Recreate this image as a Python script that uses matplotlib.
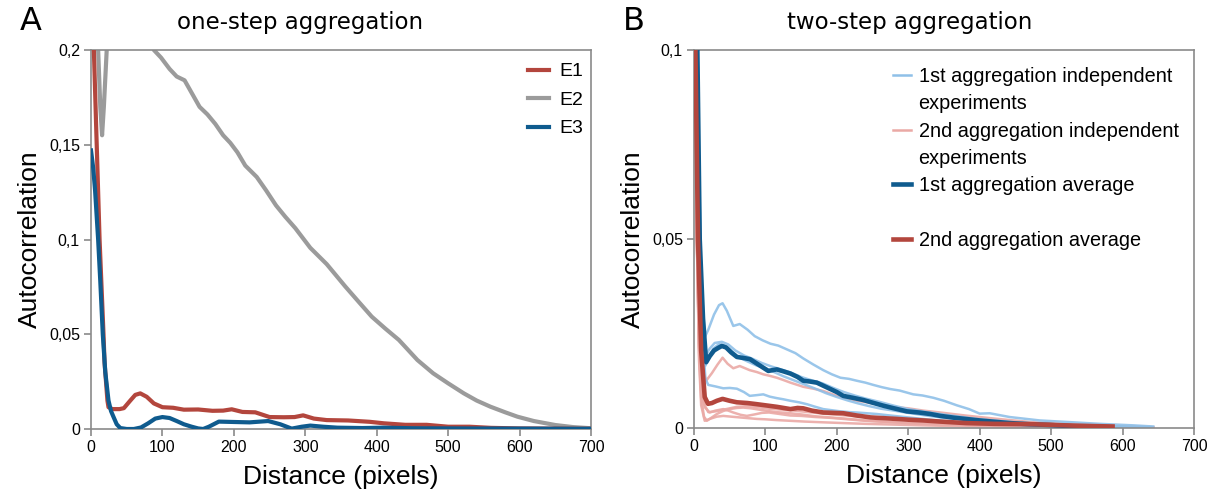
import matplotlib
matplotlib.use("Agg")
import matplotlib.pyplot as plt
from matplotlib.lines import Line2D
from matplotlib.ticker import FuncFormatter

# ---- panel A: one-step aggregation ----
e1_x = [0, 4, 8, 12, 17.5, 19, 21, 23, 24.5, 30, 40, 46, 55, 62, 69, 78, 88, 100, 115, 130,
        150, 170, 185, 197, 212, 230, 250, 270, 285, 297, 312, 330, 360, 390, 410, 440, 470,
        500, 530, 560, 600, 650, 700]
e1_y = [0.30, 0.20, 0.15, 0.10, 0.05, 0.035, 0.025, 0.015, 0.0115, 0.0105, 0.0105, 0.011,
        0.015, 0.018, 0.0188, 0.017, 0.0135, 0.0115, 0.0112, 0.0102, 0.0103, 0.0096, 0.0097,
        0.0104, 0.009, 0.0088, 0.0063, 0.0062, 0.0063, 0.0072, 0.0055, 0.0047, 0.0045, 0.0038,
        0.003, 0.0022, 0.0022, 0.0012, 0.0012, 0.0006, 0.0003, 0.0002, 0.0001]

e2_x = [0, 6, 10, 13, 15.5, 18, 22, 30, 45, 60, 75, 88, 98, 110, 120, 131, 140, 152, 163,
        174, 185, 195, 205, 216, 232, 245, 259, 272, 286, 307, 330, 356, 375, 393, 412, 431,
        457, 479, 500, 522, 540, 559, 580, 597, 620, 650, 675, 700]
e2_y = [0.45, 0.26, 0.2, 0.17, 0.155, 0.17, 0.2, 0.25, 0.26, 0.245, 0.225, 0.2, 0.196, 0.19,
        0.186, 0.184, 0.178, 0.170, 0.166, 0.161, 0.155, 0.151, 0.146, 0.139, 0.133, 0.126,
        0.118, 0.112, 0.106, 0.0956, 0.087, 0.0752, 0.067, 0.0593, 0.053, 0.047, 0.0364,
        0.0294, 0.0241, 0.0188, 0.015, 0.0118, 0.0088, 0.0065, 0.0042, 0.0021, 0.001, 0.0004]

e3_x = [0, 3, 5.7, 10, 13, 16.5, 20, 24.5, 28, 31.6, 36, 41, 50, 60, 70, 80, 90, 100, 110,
        120, 130, 141, 150, 157, 165, 179, 200, 222, 248, 265, 281, 295, 307, 325, 345, 380,
        409, 450, 500, 600, 700]
e3_y = [0.147, 0.138, 0.126, 0.1, 0.078, 0.05, 0.03, 0.015, 0.0095, 0.0063, 0.0025, 0.0005,
        0.0, 0.0, 0.0008, 0.003, 0.0055, 0.0063, 0.0058, 0.0042, 0.0025, 0.0012, 0.0003, 0.0,
        0.0012, 0.0039, 0.0037, 0.0035, 0.0042, 0.0025, 0.0002, 0.0012, 0.0018, 0.0012,
        0.0007, 0.0005, 0.0007, 0.0004, 0.0003, 0.0002, 0.0001]

# ---- panel B: two-step aggregation ----
# 1st aggregation, independent experiments
lb1_x = [0, 3, 6, 10, 15, 20, 28, 35, 40, 46, 55, 64, 75, 85, 96, 107, 118, 130, 142, 153,
         167, 181, 193, 205, 217, 228, 240, 251, 263, 275, 288, 307, 320, 335, 350, 368, 385,
         400, 414, 442, 484, 522, 568, 615, 643]
lb1_y = [0.4, 0.15, 0.08, 0.04, 0.024, 0.026, 0.030, 0.0325, 0.033, 0.031, 0.027, 0.0275,
         0.026, 0.0243, 0.0232, 0.0223, 0.0218, 0.0208, 0.0198, 0.0184, 0.0168, 0.0153,
         0.0142, 0.0133, 0.013, 0.0125, 0.012, 0.0114, 0.0108, 0.0103, 0.0099, 0.0089,
         0.0086, 0.008, 0.0072, 0.006, 0.005, 0.0038, 0.0039, 0.0029, 0.002, 0.0016, 0.0011,
         0.0007, 0.0004]
lb2_x = [0, 3, 5, 8, 12, 16, 22, 29, 39, 48, 58, 70, 82, 95, 108, 120, 135, 150, 165, 180,
         195, 210, 225, 240, 260, 280, 300, 330, 360, 400, 450, 500, 550, 600, 640]
lb2_y = [0.4, 0.15, 0.1, 0.05, 0.028, 0.019, 0.021, 0.0225, 0.0228, 0.0221, 0.0205, 0.0192,
         0.0183, 0.0172, 0.0163, 0.0156, 0.0147, 0.0135, 0.0126, 0.0118, 0.0106, 0.0095,
         0.0086, 0.0078, 0.0069, 0.0059, 0.005, 0.0041, 0.0033, 0.0023, 0.0015, 0.0009,
         0.0005, 0.0003, 0.0002]
lb3_x = [0, 3, 5, 8, 12, 16, 20, 27, 35, 43, 52, 62, 75, 88, 100, 112, 125, 140, 155, 170,
         185, 200, 215, 230, 245, 262, 280, 300, 325, 350, 380, 420, 470, 520, 580, 630]
lb3_y = [0.4, 0.15, 0.1, 0.05, 0.026, 0.0165, 0.0185, 0.021, 0.0222, 0.0218, 0.0205, 0.0188,
         0.0176, 0.0165, 0.0158, 0.0148, 0.0137, 0.0126, 0.0115, 0.0104, 0.0092, 0.0082,
         0.0073, 0.0065, 0.0058, 0.0051, 0.0046, 0.004, 0.0033, 0.0027, 0.0021, 0.0015,
         0.001, 0.0006, 0.0003, 0.0002]
lb4_x = [0, 3, 5, 8, 12, 16, 20, 30, 41, 50, 60, 70, 78, 88, 97, 106, 116, 125, 135, 147,
         158, 170, 181, 193, 205, 217, 228, 242, 256, 275, 300, 330, 360, 400, 450, 500, 550,
         600, 640]
lb4_y = [0.4, 0.15, 0.1, 0.05, 0.024, 0.013, 0.0114, 0.011, 0.0105, 0.0106, 0.0104, 0.0095,
         0.0085, 0.0087, 0.0089, 0.0083, 0.0079, 0.0076, 0.0072, 0.0068, 0.0063, 0.0056,
         0.005, 0.0047, 0.0044, 0.0042, 0.0041, 0.0039, 0.0037, 0.0033, 0.0028, 0.0022,
         0.0017, 0.0012, 0.0008, 0.0005, 0.0003, 0.0002, 0.0001]

# 2nd aggregation, independent experiments
lr1_x = [0, 2, 4, 7, 11, 17, 25, 33, 40, 47, 55, 64, 78, 88, 97, 106, 116, 125, 135, 153,
         167, 181, 200, 214, 228, 242, 256, 270, 284, 300, 321, 345, 380, 420, 470, 520, 570,
         620, 643]
lr1_y = [0.4, 0.1, 0.05, 0.025, 0.016, 0.0125, 0.0145, 0.0168, 0.0186, 0.017, 0.0158,
         0.0164, 0.0153, 0.0148, 0.0142, 0.0138, 0.0133, 0.0127, 0.012, 0.0109, 0.0104,
         0.0098, 0.0085, 0.0079, 0.0072, 0.0068, 0.0063, 0.0058, 0.0055, 0.0052, 0.0046,
         0.0041, 0.0033, 0.0025, 0.0016, 0.001, 0.0006, 0.0003, 0.0002]
lr2_x = [0, 2, 4, 7, 10, 14, 18, 25, 32, 41, 50, 60, 69, 80, 90, 100, 115, 130, 150, 170,
         190, 210, 240, 270, 300, 340, 380, 430, 480, 530, 580, 630]
lr2_y = [0.4, 0.1, 0.05, 0.02, 0.008, 0.003, 0.0019, 0.0028, 0.0037, 0.0045, 0.005, 0.0053,
         0.0054, 0.0052, 0.0049, 0.0046, 0.0042, 0.0040, 0.0036, 0.0031, 0.0028, 0.0025,
         0.002, 0.0016, 0.0013, 0.001, 0.0008, 0.0006, 0.0004, 0.0003, 0.0002, 0.0001]
lr3_x = [0, 2, 4, 7, 10, 15, 22, 30, 41, 48, 55, 65, 74, 85, 95, 105, 120, 135, 150, 170,
         190, 215, 240, 270, 300, 340, 390, 440, 500, 560, 620]
lr3_y = [0.4, 0.1, 0.05, 0.022, 0.01, 0.0055, 0.0041, 0.0046, 0.005, 0.0046, 0.0041, 0.0035,
         0.0032, 0.0036, 0.004, 0.0041, 0.0037, 0.0033, 0.0032, 0.0029, 0.0027, 0.0023,
         0.0019, 0.0016, 0.0013, 0.001, 0.0007, 0.0005, 0.0003, 0.0002, 0.0001]
lr4_x = [0, 2, 4, 7, 10, 15, 22, 32, 41, 52, 64, 76, 88, 100, 115, 135, 155, 181, 210, 240,
         280, 320, 370, 420, 480, 540, 600]
lr4_y = [0.4, 0.1, 0.05, 0.018, 0.006, 0.0019, 0.0024, 0.003, 0.0032, 0.003, 0.0028, 0.0026,
         0.0024, 0.0023, 0.0021, 0.0019, 0.0017, 0.0015, 0.0013, 0.0011, 0.0009, 0.0007,
         0.0005, 0.0004, 0.0003, 0.0002, 0.0001]
lr5_x = [0, 2, 4, 7, 10, 15, 20, 30, 45, 60, 75, 90, 105, 120, 140, 160, 180, 200, 225, 250,
         280, 310, 350, 400, 450, 500, 560, 620, 643]
lr5_y = [0.4, 0.1, 0.05, 0.022, 0.011, 0.006, 0.0042, 0.0044, 0.005, 0.0056, 0.0058, 0.0055,
         0.0051, 0.0049, 0.0046, 0.0042, 0.0038, 0.0035, 0.0031, 0.0028, 0.0024, 0.002,
         0.0016, 0.0012, 0.0009, 0.0006, 0.0004, 0.0002, 0.0001]

# averages
avg1_x = [0, 3, 4.7, 8, 12.6, 17, 22, 28, 34, 39, 45, 52, 60, 70, 78.5, 90, 104, 116, 125,
          135, 145, 153, 162, 172, 182, 191, 200, 209, 222, 237, 250, 265, 280, 298, 315, 331,
          345, 365, 400, 442, 470, 498, 536, 560, 575]
avg1_y = [0.4, 0.15, 0.1, 0.05, 0.029, 0.0174, 0.019, 0.0205, 0.0212, 0.0217, 0.0213, 0.0200,
          0.0188, 0.0185, 0.0182, 0.0168, 0.0151, 0.0155, 0.0150, 0.0144, 0.0135, 0.0125,
          0.0123, 0.012, 0.0111, 0.0103, 0.0095, 0.0085, 0.008, 0.0074, 0.0067, 0.0059,
          0.0052, 0.0044, 0.0041, 0.0037, 0.0032, 0.0027, 0.002, 0.0013, 0.001, 0.0008,
          0.0004, 0.0002, 0.0001]
avg2_x = [0, 2, 5.6, 10, 15, 19.6, 25, 32, 40, 50, 60, 75, 88, 100, 116, 135, 145, 153, 165,
          181, 195, 209, 228, 247, 265, 284, 300, 321, 345, 381, 420, 474, 520, 560, 586]
avg2_y = [0.4, 0.1, 0.05, 0.0205, 0.0082, 0.0064, 0.0066, 0.0072, 0.0077, 0.0072, 0.0068,
          0.0066, 0.0063, 0.0060, 0.0056, 0.005, 0.0053, 0.0052, 0.0046, 0.0041, 0.0040,
          0.0039, 0.0033, 0.0028, 0.0026, 0.0024, 0.0022, 0.002, 0.0017, 0.0013, 0.0011,
          0.001, 0.0007, 0.0005, 0.0004]

RED = "#b3463d"
GREY = "#9b9b9b"
BLUE = "#0f5b8e"
LIGHT_BLUE = "#8fc0e8"
LIGHT_RED = "#eaa9a5"
FRAME = "#8a8a8a"
SANS = ["Liberation Sans", "DejaVu Sans"]


def comma(v, _pos):
    return ("%g" % v).replace(".", ",")


def style_axes(ax, ymax, yticks):
    ax.set_xlim(0, 700)
    ax.set_ylim(0, ymax)
    ax.set_xticks(range(0, 701, 100))
    ax.set_yticks(yticks)
    ax.yaxis.set_major_formatter(FuncFormatter(comma))
    for s in ax.spines.values():
        s.set_color(FRAME)
        s.set_linewidth(1.2)
    ax.tick_params(direction="out", length=5, width=1.2, color=FRAME,
                   labelsize=11.5, pad=3)
    for lab in ax.get_xticklabels() + ax.get_yticklabels():
        lab.set_family(SANS)
    ax.set_xlabel("Distance (pixels)", fontsize=19, family=SANS)
    ax.set_ylabel("Autocorrelation", fontsize=19, family=SANS)
    ax.xaxis.set_label_coords(0.5, -0.095)
    ax.yaxis.set_label_coords(-0.098, 0.5)


fig = plt.figure(figsize=(12.19, 5.0), dpi=100)
ax_a = fig.add_axes([91 / 1219, 1 - 429 / 500, 500 / 1219, 379 / 500])
ax_b = fig.add_axes([694 / 1219, 1 - 428 / 500, 500 / 1219, 378 / 500])

# panel A
ax_a.plot(e2_x, e2_y, color=GREY, lw=3, label="E2", zorder=2)
ax_a.plot(e1_x, e1_y, color=RED, lw=3, label="E1", zorder=3)
ax_a.plot(e3_x, e3_y, color=BLUE, lw=3, label="E3", zorder=4)
style_axes(ax_a, 0.2, [0, 0.05, 0.1, 0.15, 0.2])
h, l = ax_a.get_legend_handles_labels()
order = [l.index("E1"), l.index("E2"), l.index("E3")]
ax_a.legend([h[i] for i in order], [l[i] for i in order], loc="upper left",
            bbox_to_anchor=(0.874, 0.966), borderaxespad=0, borderpad=0,
            frameon=False, handlelength=1.07, handletextpad=0.55,
            labelspacing=0.56, prop={"family": SANS, "size": 14})

# panel B
for xs, ys in [(lr1_x, lr1_y), (lr2_x, lr2_y), (lr3_x, lr3_y), (lr4_x, lr4_y), (lr5_x, lr5_y)]:
    ax_b.plot(xs, ys, color=LIGHT_RED, lw=1.8, alpha=0.9, zorder=2)
for xs, ys in [(lb1_x, lb1_y), (lb2_x, lb2_y), (lb3_x, lb3_y), (lb4_x, lb4_y)]:
    ax_b.plot(xs, ys, color=LIGHT_BLUE, lw=1.8, alpha=0.9, zorder=2)
ax_b.plot(avg1_x, avg1_y, color=BLUE, lw=3.3, zorder=4)
ax_b.plot(avg2_x, avg2_y, color=RED, lw=3.3, zorder=4)
style_axes(ax_b, 0.1, [0, 0.05, 0.1])

blank = Line2D([], [], color="none")
b_handles = [Line2D([], [], color=LIGHT_BLUE, lw=1.8), blank,
             Line2D([], [], color=LIGHT_RED, lw=1.8), blank,
             Line2D([], [], color=BLUE, lw=3.3), blank,
             Line2D([], [], color=RED, lw=3.3)]
b_labels = ["1st aggregation independent", "experiments",
            "2nd aggregation independent", "experiments",
            "1st aggregation average", " ", "2nd aggregation average"]
ax_b.legend(b_handles, b_labels, loc="upper left", bbox_to_anchor=(0.398, 0.955),
            borderaxespad=0, borderpad=0, frameon=False, handlelength=0.93,
            handletextpad=0.36, labelspacing=0.42, prop={"family": SANS, "size": 14.3})

# titles and panel letters
fig.text(300 / 1219, 1 - 23 / 500, "one-step aggregation", ha="center", va="center",
         fontsize=16.5, family="DejaVu Sans")
fig.text(910 / 1219, 1 - 23 / 500, "two-step aggregation", ha="center", va="center",
         fontsize=16.5, family="DejaVu Sans")
fig.text(31 / 1219, 1 - 22 / 500, "A", ha="center", va="center", fontsize=23,
         family="DejaVu Sans")
fig.text(634 / 1219, 1 - 22 / 500, "B", ha="center", va="center", fontsize=23,
         family="DejaVu Sans")

fig.savefig("out.png", dpi=100)
